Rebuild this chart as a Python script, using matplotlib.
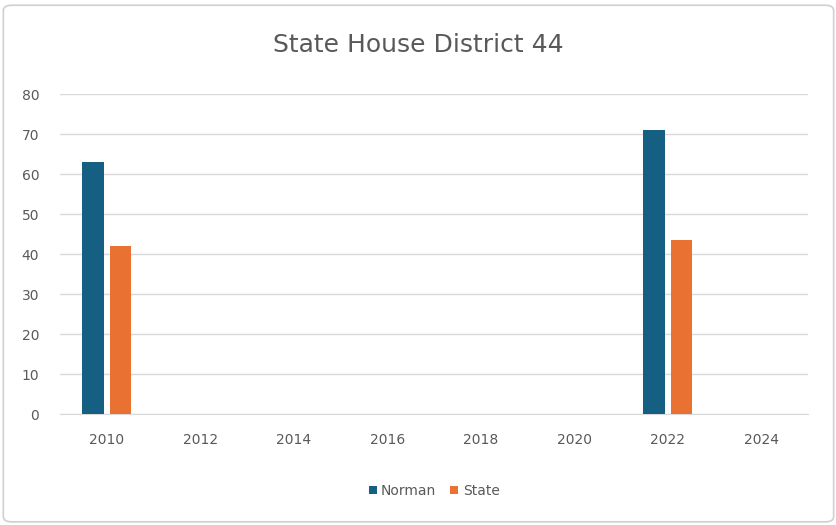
import numpy as np
import matplotlib.pyplot as plt
from matplotlib.patches import FancyBboxPatch

years = ["2010", "2012", "2014", "2016", "2018", "2020", "2022", "2024"]
norman = [63, np.nan, np.nan, np.nan, np.nan, np.nan, 71, np.nan]
state = [42, np.nan, np.nan, np.nan, np.nan, np.nan, 43.5, np.nan]

blue = '#156082'
orange = '#E97132'
grey = '#595959'

fig = plt.figure(figsize=(8.37, 5.25), dpi=100)
frame = FancyBboxPatch((0.004, 0.006), 0.992, 0.984,
                       boxstyle="round,pad=0,rounding_size=0.01",
                       transform=fig.transFigure, facecolor='white',
                       edgecolor='#d0d0d0', linewidth=1.2, zorder=-10)
fig.patches.append(frame)
ax = fig.add_axes([0.0717, 0.2114, 0.8937, 0.6095])
ax.set_facecolor('none')

x = np.arange(len(years))
w = 0.23
ax.bar(x - 0.145, norman, w, color=blue, label='Norman', zorder=3)
ax.bar(x + 0.145, state, w, color=orange, label='State', zorder=3)

ax.set_xlim(-0.5, len(years) - 0.5)
ax.set_ylim(0, 80)
ax.set_yticks(range(0, 81, 10))
ax.set_xticks(x)
ax.set_xticklabels(years)
ax.yaxis.grid(True, color='#d9d9d9', linewidth=1, zorder=0)
for s in ['top', 'right', 'left']:
    ax.spines[s].set_visible(False)
ax.spines['bottom'].set_color('#d9d9d9')
ax.tick_params(length=0, colors=grey, labelsize=10)
ax.tick_params(axis='x', pad=14)
ax.tick_params(axis='y', pad=15)

fig.text(0.5, 0.915, "State House District 44", ha='center', va='center',
         fontsize=18, color=grey)

leg = ax.legend(loc='center', bbox_to_anchor=(0.5, -0.24), ncol=2, frameon=False,
                fontsize=10, handlelength=0.6, handleheight=0.6,
                handletextpad=0.3, columnspacing=1.0)
for t in leg.get_texts():
    t.set_color(grey)

plt.savefig('out.png', dpi=100)
